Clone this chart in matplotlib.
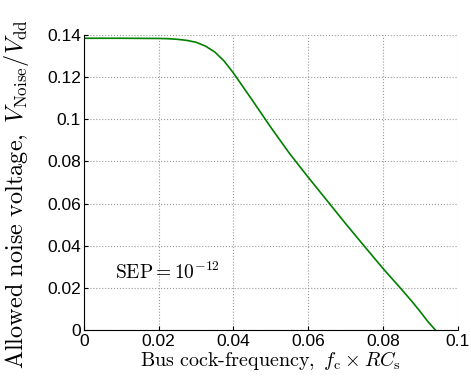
import numpy as np
import matplotlib
matplotlib.use('Agg')
import matplotlib.pyplot as plt

# curve
fc_rc = [0.0, 0.01, 0.02, 0.0225, 0.025, 0.0275, 0.03, 0.0325, 0.035, 0.0375,
         0.04, 0.0425, 0.045, 0.05, 0.055, 0.06, 0.065, 0.07, 0.075, 0.08,
         0.085, 0.088, 0.09, 0.092, 0.094]
v_noise = [0.1385, 0.1385, 0.1384, 0.1383, 0.1380, 0.1375, 0.1366, 0.1348, 0.1320, 0.1277,
           0.1220, 0.1156, 0.1092, 0.0962, 0.0838, 0.0725, 0.0615, 0.0505, 0.0398, 0.0292,
           0.0192, 0.0130, 0.0086, 0.0040, 0.0]

xticks = [0, 0.02, 0.04, 0.06, 0.08, 0.1]
xticklabels = ['0', '0.02', '0.04', '0.06', '0.08', '0.1']
yticks = [0, 0.02, 0.04, 0.06, 0.08, 0.1, 0.12, 0.14]
yticklabels = ['0', '0.02', '0.04', '0.06', '0.08', '0.1', '0.12', '0.14']

plt.rcParams['mathtext.fontset'] = 'cm'
plt.rcParams['font.family'] = ['Liberation Sans', 'DejaVu Sans']

fig = plt.figure(figsize=(4.71, 3.84), dpi=100)
ax = fig.add_axes([0.178, 0.1406, 0.794, 0.768])

ax.plot(fc_rc, v_noise, color='#008000', linewidth=1.2)

ax.set_xlim(0, 0.1)
ax.set_ylim(0, 0.14)
ax.set_xticks(xticks)
ax.set_xticklabels(xticklabels, fontsize=12.5)
ax.set_yticks(yticks)
ax.set_yticklabels(yticklabels, fontsize=12.5)
ax.tick_params(direction='in', length=3)
ax.tick_params(axis='x', pad=3)
ax.tick_params(axis='y', pad=2)
ax.grid(True, linestyle=':', color='#999999', linewidth=0.8)
ax.spines['top'].set_visible(False)
ax.spines['right'].set_visible(False)

ax.set_xlabel(r'$\mathrm{Bus\ cock\text{-}frequency,}\ f_{\mathrm{c}}\times RC_{\mathrm{s}}$',
              fontsize=14.5, labelpad=0)
ax.set_ylabel(r'$\mathrm{Allowed\ noise\ voltage,}\ V_{\mathrm{Noise}}/V_{\mathrm{dd}}$',
              fontsize=17.5)
ax.yaxis.set_label_coords(-0.14, 0.46)

ax.text(0.0083, 0.0275, r'$\mathrm{SEP} = 10^{-12}$', fontsize=14, va='center')

fig.savefig('out.png', dpi=100)
